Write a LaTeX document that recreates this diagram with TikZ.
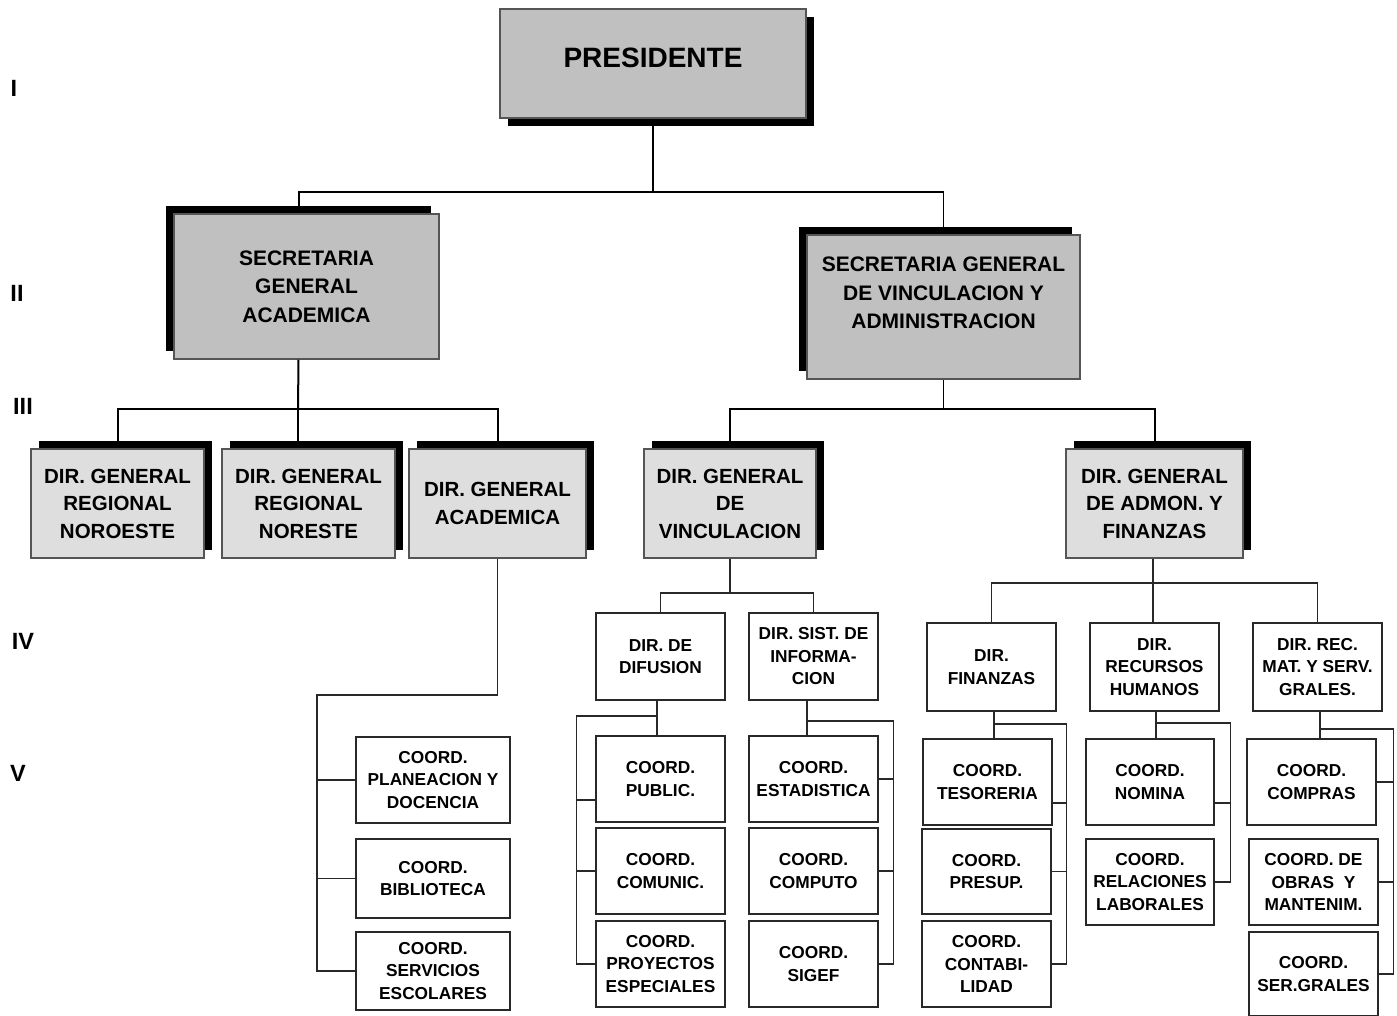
\documentclass[tikz,border=0pt]{standalone}
\usepackage{fontspec}
\setmainfont{Liberation Sans}
\usetikzlibrary{calc,shadows}
\definecolor{OrgDark}{RGB}{192,192,192}
\definecolor{OrgLight}{RGB}{222,222,222}
\definecolor{OrgEdge}{RGB}{85,85,85}
\definecolor{OrgLine}{RGB}{40,40,40}
\tikzset{
  org/chief/.style={
    draw=OrgEdge,
    line width=1.5pt,
    fill=OrgDark,
    align=center,
    inner sep=2pt,
    minimum width=306pt,
    minimum height=109pt,
    font=\bfseries\fontsize{28}{11}\selectfont,
    drop shadow={shadow xshift=8pt,shadow yshift=-8pt,fill=black,opacity=1}
  },
  org/sec/.style={
    draw=OrgEdge,
    line width=1.5pt,
    fill=OrgDark,
    align=center,
    inner sep=2pt,
    minimum height=145pt,
    font=\bfseries\fontsize{21}{28.5}\selectfont,
    drop shadow={shadow xshift=-8pt,shadow yshift=8pt,fill=black,opacity=1}
  },
  org/dirgen/.style={
    draw=OrgEdge,
    line width=1.5pt,
    fill=OrgLight,
    align=center,
    inner sep=2pt,
    minimum width=173pt,
    minimum height=109pt,
    font=\bfseries\fontsize{20.5}{27.5}\selectfont,
    drop shadow={shadow xshift=8pt,shadow yshift=8pt,fill=black,opacity=1}
  },
  org/dir/.style={
    draw=OrgLine,
    line width=1.4pt,
    fill=white,
    align=center,
    inner sep=2pt,
    minimum width=129pt,
    minimum height=86pt,
    font=\bfseries\fontsize{17.3}{22.5}\selectfont
  },
  org/hiline/.style={draw=black, line width=2pt},
  org/loline/.style={draw=OrgLine, line width=1.2pt},
  org/level/.style={font=\bfseries\fontsize{23.5}{26}\selectfont}
}

\begin{document}
\begin{tikzpicture}[x=1pt,y=-1pt]
  \useasboundingbox (0,0) rectangle (1397,1015);

  % levels
  \node[org/level] (lvI) at (14,88) {I};
  \node[org/level] (lvII) at (17,293) {II};
  \node[org/level] (lvIII) at (23,406) {III};
  \node[org/level] (lvIV) at (23,641) {IV};
  \node[org/level] (lvV) at (18,773) {V};

  % level I and II
  \node[org/chief] (pres) at (653,63.5) {PRESIDENTE\\\mbox{}};
  \node[org/sec,minimum width=265pt] (sga) at (306.5,286.5) {SECRETARIA\\GENERAL\\ACADEMICA};
  \node[org/sec,minimum width=273pt,minimum height=144pt] (sgva) at (943.5,307) {SECRETARIA GENERAL\\DE VINCULACION Y\\ADMINISTRACION\\\mbox{}};

  % level III
  \node[org/dirgen] (noroeste) at (117.5,503.5) {DIR. GENERAL\\REGIONAL\\NOROESTE};
  \node[org/dirgen] (noreste) at (308.5,503.5) {DIR. GENERAL\\REGIONAL\\NORESTE};
  \node[org/dirgen,minimum width=177pt] (academica) at (497.5,503.5) {DIR. GENERAL\\ACADEMICA};
  \node[org/dirgen,minimum width=172pt] (vinc) at (730,503.5) {DIR. GENERAL\\DE\\VINCULACION};
  \node[org/dirgen,minimum width=177pt] (admon) at (1154.5,503.5) {DIR. GENERAL\\DE ADMON. Y\\FINANZAS};

  % level IV
  \node[org/dir,minimum height=87pt] (difusion) at (660.5,656.5) {DIR. DE\\DIFUSION};
  \node[org/dir,minimum height=87pt] (sist) at (813.5,656.5) {DIR. SIST. DE\\INFORMA-\\CION};
  \node[org/dir,minimum height=88pt] (finanzas) at (991.5,667) {DIR.\\FINANZAS};
  \node[org/dir,minimum height=88pt] (rh) at (1154.5,667) {DIR.\\RECURSOS\\HUMANOS};
  \node[org/dir,minimum height=88pt] (recmat) at (1317.5,667) {DIR. REC.\\MAT. Y SERV.\\GRALES.};

  % level V
  \node[org/dir,minimum width=154pt] (planeacion) at (433,780) {COORD.\\PLANEACION Y\\DOCENCIA};
  \node[org/dir,minimum width=154pt,minimum height=79pt] (biblioteca) at (433,878.5) {COORD.\\BIBLIOTECA};
  \node[org/dir,minimum width=154pt,minimum height=78pt] (servicios) at (433,971) {COORD.\\SERVICIOS\\ESCOLARES};
  \node[org/dir] (public) at (660.5,779) {COORD.\\PUBLIC.};
  \node[org/dir] (comunic) at (660.5,871) {COORD.\\COMUNIC.};
  \node[org/dir] (proyectos) at (660.5,964) {COORD.\\PROYECTOS\\ESPECIALES};
  \node[org/dir] (estadistica) at (813.5,779) {COORD.\\ESTADISTICA};
  \node[org/dir] (computo) at (813.5,871) {COORD.\\COMPUTO};
  \node[org/dir] (sigef) at (813.5,964) {COORD.\\SIGEF};
  \node[org/dir] (tesoreria) at (987.5,782) {COORD.\\TESORERIA};
  \node[org/dir,minimum height=85pt] (presup) at (986.5,871.5) {COORD.\\PRESUP.};
  \node[org/dir] (contab) at (986.5,964) {COORD.\\CONTABI-\\LIDAD};
  \node[org/dir,minimum width=128pt] (nomina) at (1150,782) {COORD.\\NOMINA};
  \node[org/dir,minimum width=128pt] (relaciones) at (1150,882) {COORD.\\RELACIONES\\LABORALES};
  \node[org/dir] (compras) at (1311.5,782) {COORD.\\COMPRAS};
  \node[org/dir] (obras) at (1313.5,882) {COORD. DE\\OBRAS~ Y\\MANTENIM.};
  \node[org/dir,minimum height=84pt] (sergrales) at (1313.5,974) {COORD.\\SER.GRALES};

  % upper connectors
  \coordinate (busI) at (653,192);
  \draw[org/hiline] (pres.south) -- (busI);
  \draw[org/hiline] ($(sga.north)+(-8,0)$) |- (busI) -- (busI -| sgva.north);
  \draw[org/hiline,line width=1.2pt] (busI -| sgva.north) -- (sgva.north);
  \coordinate (busIIa) at (298,409);
  \draw[org/hiline] ($(sga.south)+(-8,0)$) -- (busIIa);
  \draw[org/hiline] (noroeste.north) |- (busIIa) -| (academica.north);
  \draw[org/hiline] (busIIa) -- (busIIa |- noreste.north);
  \coordinate (busIIb) at (943.5,409);
  \draw[org/hiline,line width=1.2pt] (sgva.south) -- (busIIb);
  \draw[org/hiline] (vinc.north) |- (busIIb) -| (admon.north);

  % academica
  \coordinate (trunkA) at (317,695);
  \draw[org/loline] (academica.south) |- (trunkA) -- (trunkA |- servicios.west) -- (servicios.west);
  \draw[org/loline] (trunkA |- planeacion.west) -- (planeacion.west);
  \draw[org/loline] (trunkA |- biblioteca.west) -- (biblioteca.west);

  % vinculacion
  \coordinate (busIIIb) at (730,593);
  \draw[org/loline] (vinc.south) -- (busIIIb);
  \draw[org/loline] (difusion.north) |- (busIIIb) -| (sist.north);
  \coordinate (jB) at (657,716);
  \draw[org/loline] (difusion.south -| jB) -- (public.north -| jB);
  \draw[org/loline] (jB) -| ($(proyectos.west)+(-19,0)$) -- (proyectos.west);
  \draw[org/loline] ($(public.west)+(-19,21)$) -- ($(public.west)+(0,21)$);
  \draw[org/loline] ($(comunic.west)+(-19,0)$) -- (comunic.west);
  \coordinate (jC) at (807,721);
  \draw[org/loline] (sist.south -| jC) -- (estadistica.north -| jC);
  \draw[org/loline] (jC) -| ($(sigef.east)+(15,0)$) -- (sigef.east);
  \draw[org/loline] ($(estadistica.east)+(15,0)$) -- (estadistica.east);
  \draw[org/loline] ($(computo.east)+(15,0)$) -- (computo.east);

  % administracion
  \coordinate (busIIIc) at (1153,583);
  \draw[org/loline] (admon.south -| busIIIc) -- (busIIIc);
  \draw[org/loline] (finanzas.north) |- (busIIIc) -| (recmat.north);
  \draw[org/loline] (busIIIc) -- (busIIIc |- rh.north);
  \coordinate (jD) at (994,724);
  \draw[org/loline] (finanzas.south -| jD) -- (tesoreria.north -| jD);
  \draw[org/loline] (jD) -| ($(contab.east)+(15,0)$) -- (contab.east);
  \draw[org/loline] ($(tesoreria.east)+(14,21)$) -- ($(tesoreria.east)+(0,21)$);
  \draw[org/loline] ($(presup.east)+(15,0)$) -- (presup.east);
  \coordinate (jE) at (1156,723);
  \draw[org/loline] (rh.south -| jE) -- (nomina.north -| jE);
  \draw[org/loline] (jE) -| ($(relaciones.east)+(16,0)$) -- (relaciones.east);
  \draw[org/loline] ($(nomina.east)+(16,21)$) -- ($(nomina.east)+(0,21)$);
  \coordinate (jF) at (1320,729);
  \draw[org/loline] (recmat.south -| jF) -- (compras.north -| jF);
  \draw[org/loline] (jF) -| ($(sergrales.east)+(15,0)$) -- (sergrales.east);
  \draw[org/loline] ($(compras.east)+(17,0)$) -- (compras.east);
  \draw[org/loline] ($(obras.east)+(15,0)$) -- (obras.east);
\end{tikzpicture}
\end{document}
